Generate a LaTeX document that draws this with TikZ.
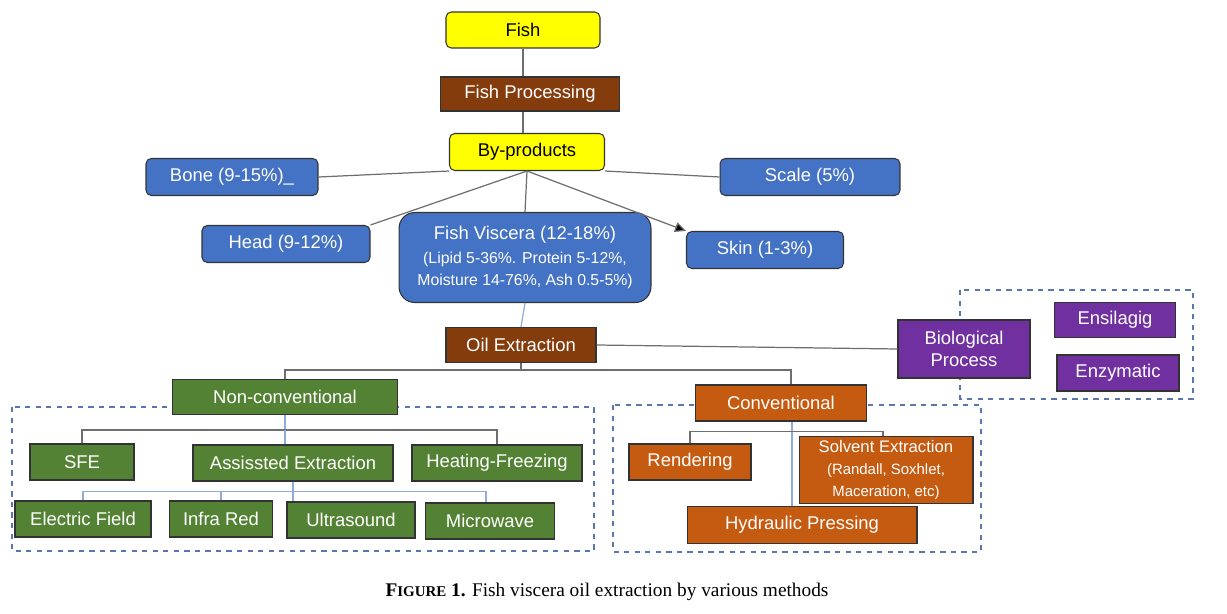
\documentclass[tikz,border=0pt]{standalone}
\usepackage{fontspec}
\setmainfont{Liberation Sans}
\newfontfamily\capfont{Liberation Serif}
\usetikzlibrary{positioning,arrows.meta,calc}
\definecolor{fishyellow}{HTML}{FFFF00}
\definecolor{procbrown}{HTML}{843C0C}
\definecolor{partblue}{HTML}{4472C4}
\definecolor{nongreen}{HTML}{548235}
\definecolor{convorange}{HTML}{C55A11}
\definecolor{biopurple}{HTML}{7030A0}
\definecolor{dashblue}{HTML}{2F5597}
\definecolor{linkgray}{HTML}{6E6E6E}
\definecolor{linkblue}{HTML}{8FAADC}

\begin{document}
\begin{tikzpicture}[
  x=0.02cm, y=-0.02cm,
  every node/.style={font=\fontsize{10.5}{12.5}\selectfont, inner sep=2pt},
  box/.style={draw=black!80, line width=0.6pt, align=center, text=white},
  ybox/.style={box, fill=fishyellow, text=black, rounded corners=3pt},
  pbox/.style={box, fill=procbrown},
  bbox/.style={box, fill=partblue, rounded corners=3pt},
  gbox/.style={box, fill=nongreen},
  obox/.style={box, fill=convorange},
  vbox/.style={box, fill=biopurple},
  link/.style={draw=linkgray, line width=0.7pt},
  blink/.style={draw=linkblue, line width=0.7pt},
  group/.style={draw=dashblue!80, dashed, line width=0.6pt},
]
  \useasboundingbox (0,0) rectangle (1227,614);

  % dashed groups
  \draw[group] (12,407) rectangle (594,551);
  \draw[group] (613,405) rectangle (981,552);
  \draw[group] (960,290) rectangle (1193,399);

  \node[ybox, minimum width=3.08cm, minimum height=0.72cm] (fish) at (523,30) {Fish};
  \node[pbox, minimum width=3.58cm, minimum height=0.68cm] (proc) at (530,94) {Fish Processing};
  \node[ybox, minimum width=3.10cm, minimum height=0.74cm] (byprod) at (527,152) {By-products};

  \node[bbox, minimum width=3.44cm, minimum height=0.74cm] (bone) at (232,177) {Bone (9-15\%)\_};
  \node[bbox, minimum width=3.60cm, minimum height=0.74cm] (scale) at (810,177) {Scale (5\%)};
  \node[bbox, minimum width=3.36cm, minimum height=0.74cm] (head) at (286,244) {Head (9-12\%)};
  \node[bbox, minimum width=5.04cm, minimum height=1.80cm, rounded corners=9pt, anchor=north] (viscera) at (525,212)
    {Fish Viscera (12-18\%)\\[1pt]
     {\fontsize{9}{11}\selectfont (Lipid 5-36\%. Protein 5-12\%,}\\
     {\fontsize{9}{11}\selectfont Moisture 14-76\%, Ash 0.5-5\%)}};
  \node[bbox, minimum width=3.14cm, minimum height=0.74cm] (skin) at (765,250) {Skin (1-3\%)};

  \node[pbox, minimum width=3.00cm, minimum height=0.70cm] (oil) at (521,345) {Oil Extraction};
  \node[vbox, minimum width=2.64cm, minimum height=1.16cm] (bio) at (964,349) {Biological\\Process};
  \node[vbox, minimum width=2.42cm, minimum height=0.70cm] (ensil) at (1115,320) {Ensilagig};
  \node[vbox, minimum width=2.44cm, minimum height=0.72cm] (enzym) at (1118,373) {Enzymatic};

  \node[gbox, minimum width=4.50cm, minimum height=0.70cm] (nonconv) at (285,397) {Non-conventional};
  \node[obox, minimum width=3.42cm, minimum height=0.72cm] (conv) at (781,403) {Conventional};

  \node[gbox, minimum width=2.08cm, minimum height=0.72cm] (sfe) at (82,462) {SFE};
  \node[gbox, minimum width=4.00cm, minimum height=0.72cm] (assist) at (293,463) {Assissted Extraction};
  \node[gbox, minimum width=3.40cm, minimum height=0.72cm] (heat) at (497,463) {Heating-Freezing};
  \node[gbox, minimum width=2.72cm, minimum height=0.72cm] (efield) at (83,519) {Electric Field};
  \node[gbox, minimum width=2.06cm, minimum height=0.72cm] (infra) at (221,519) {Infra Red};
  \node[gbox, minimum width=2.56cm, minimum height=0.72cm] (ultra) at (351,520) {Ultrasound};
  \node[gbox, minimum width=2.58cm, minimum height=0.72cm] (micro) at (490,521) {Microwave};

  \node[obox, minimum width=2.44cm, minimum height=0.72cm] (render) at (690,462) {Rendering};
  \node[obox, minimum width=3.48cm, minimum height=1.30cm] (solvent) at (886,470)
    {{\fontsize{9.5}{11}\selectfont Solvent Extraction}\\
     {\fontsize{8.5}{10}\selectfont (Randall, Soxhlet,}\\
     {\fontsize{8.5}{10}\selectfont Maceration, etc)}};
  \node[obox, minimum width=4.60cm, minimum height=0.74cm] (hydra) at (802,525) {Hydraulic Pressing};

  \node[font=\capfont\fontsize{11}{13}\selectfont] (caption) at (607,592)
    {\textbf{F{\fontsize{8.5}{10}\selectfont IGURE} 1.} Fish viscera oil extraction by various methods};

  % connectors
  \draw[link] (fish.south) -- (fish.south |- proc.north);
  \draw[link] (fish.south |- proc.south) -- (fish.south |- byprod.north);
  \draw[link] (byprod.south west) -- (bone.east);
  \draw[link] (byprod.south east) -- (scale.west);
  \draw[link] (byprod.south) -- (head.north east);
  \draw[link] (byprod.south) -- (viscera.north);
  \draw[link, -{Triangle[length=2.2mm, width=2mm, fill=black]}] (byprod.south) -- (skin.north west);
  \draw[blink] (viscera.south) -- (oil.north);
  \draw[link] (oil.east) -- (bio.west);

  \draw[link] (oil.south) -- ++(0,7) coordinate (o1);
  \draw[link] (o1) -| (nonconv.north);
  \draw[link] (o1) -| ($(conv.north)+(10,0)$);

  \draw[blink] (nonconv.south) -- ++(0,15) coordinate (n1);
  \draw[link] (n1) -| (sfe.north);
  \draw[link] (n1) -| (heat.north);
  \draw[blink] (n1) -- (n1 |- assist.north);

  \draw[blink] (assist.south) -- ++(0,10) coordinate (a1);
  \draw[blink] (a1) -| (efield.north);
  \draw[blink] (a1) -| (infra.north);
  \draw[blink] (a1) -- (a1 |- ultra.north);
  \draw[blink] (a1) -| ($(micro.north)+(-4,0)$);

  \draw[blink] ($(conv.south)+(11,0)$) coordinate (c0) -- ++(0,10) coordinate (c1);
  \draw[link] (c1) -| (render.north);
  \draw[link] (c1) -| ($(solvent.north)+(-3,0)$);
  \draw[blink] (c1) -- (c1 |- hydra.north);
\end{tikzpicture}
\end{document}
